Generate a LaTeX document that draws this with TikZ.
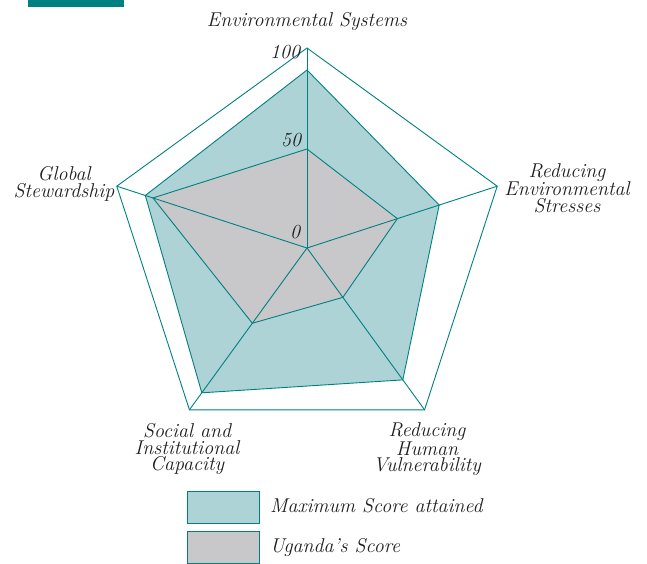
\documentclass[tikz,border=0pt]{standalone}
\usepackage{fontspec}
\definecolor{tealc}{RGB}{0,128,128}
\definecolor{tealfill}{RGB}{173,211,214}
\definecolor{grayfill}{RGB}{200,200,202}
\definecolor{txt}{RGB}{30,30,30}
\newcommand{\lblfont}{\fontsize{20}{16.5}\selectfont\itshape}
\tikzset{
  edgeline/.style={draw=tealc, line width=0.9pt, line join=miter},
  maxarea/.style={fill=tealfill, draw=tealc, line width=0.9pt},
  ugarea/.style={fill=grayfill, draw=tealc, line width=0.9pt},
  lbl/.style={font=\lblfont, align=center, inner sep=0pt, text=txt},
  scalelbl/.style={font=\lblfont, inner sep=0pt, text=txt},
  legbox/.style={draw=tealc, line width=0.9pt, minimum width=72pt, minimum height=32pt, inner sep=0pt},
}
\begin{document}
\begin{tikzpicture}[x=1pt,y=1pt]
\useasboundingbox (0,-563) rectangle (647,0);
\fill[tealc] (28,0) rectangle (124,-7);
\coordinate (C) at (307,-248);
\begin{scope}[shift={(C)}]
  \coordinate (o1) at (90:200);
  \coordinate (o2) at (18:200);
  \coordinate (o3) at (-54:200);
  \coordinate (o4) at (-126:200);
  \coordinate (o5) at (162:200);
  \coordinate (m1) at (90:178);
  \coordinate (m2) at (18:139);
  \coordinate (m3) at (-54:163);
  \coordinate (m4) at (-126:179);
  \coordinate (m5) at (162:170);
  \coordinate (u1) at (90:99);
  \coordinate (u2) at (18:95);
  \coordinate (u3) at (-54:61);
  \coordinate (u4) at (-126:93);
  \coordinate (u5) at (162:162);
\end{scope}
\path[maxarea] (m1) -- (m2) -- (m3) -- (m4) -- (m5) -- cycle;
\path[ugarea] (u1) -- (u2) -- (u3) -- (u4) -- (u5) -- cycle;
\draw[edgeline] (o1) -- (o2) -- (o3) -- (o4) -- (o5) -- cycle;
\foreach \i in {1,...,5} { \draw[edgeline] (C) -- (o\i); }
% scale labels
\node[scalelbl] (s100) at (285,-52) {100};
\node[scalelbl] (s50) at (291,-140) {50};
\node[scalelbl] (s0) at (295,-232) {0};
% axis labels
\node[lbl] (lenv) at (307,-21) {Environmental Systems};
\node[lbl] (lglob) at (64,-184) {Global\\Stewardship};
\node[lbl] (lred) at (567,-188) {Reducing\\Environmental\\Stresses};
\node[lbl] (lsoc) at (187,-449) {Social and\\Institutional\\Capacity};
\node[lbl] (lhum) at (427,-449) {Reducing\\Human\\Vulnerability};
% legend
\node[legbox, fill=tealfill, anchor=north west] (bmax) at (187,-491) {};
\node[legbox, fill=grayfill, anchor=north west] (bug) at (187,-531) {};
\node[lbl, anchor=west] (tmax) at (270,-506) {Maximum Score attained};
\node[lbl, anchor=west] (tug) at (270,-547) {Uganda's Score};
\end{tikzpicture}
\end{document}
